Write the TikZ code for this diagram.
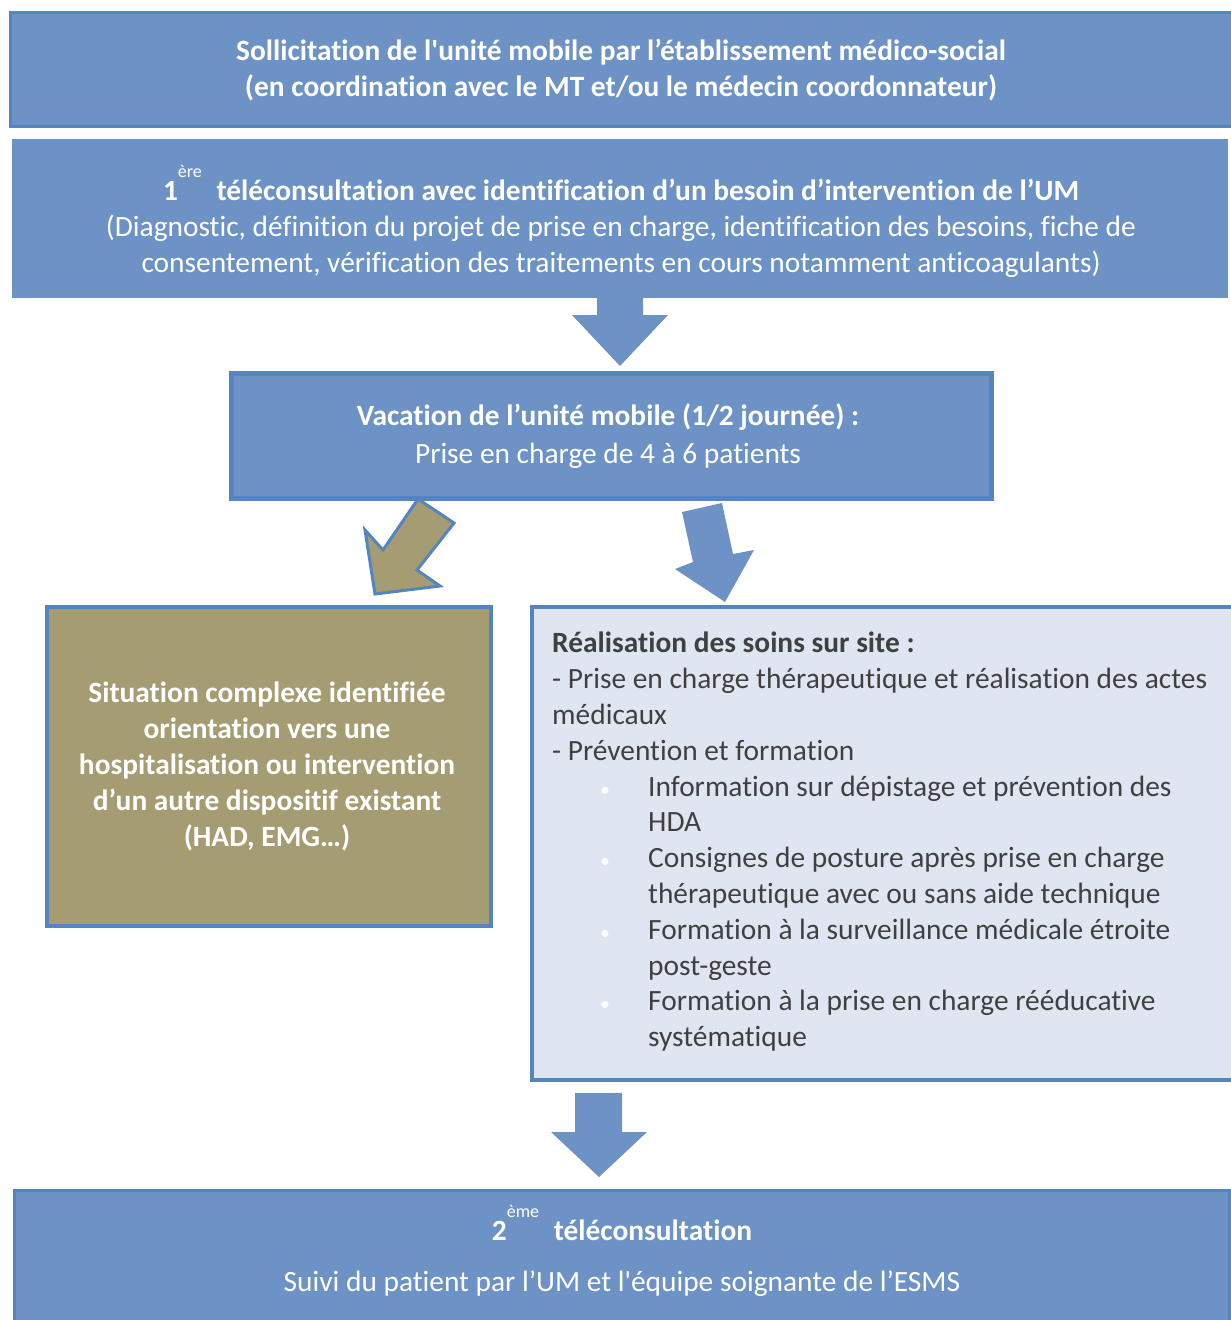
\documentclass[tikz,border=0pt]{standalone}
\usepackage{fontspec}
\setmainfont{Carlito}[Ligatures=NoCommon]
\definecolor{boxblue}{HTML}{6D92C6}
\definecolor{edgeblue}{HTML}{5585C0}
\definecolor{olive}{HTML}{A59D71}
\definecolor{paleblue}{HTML}{DFE6F2}
\definecolor{darktext}{HTML}{404040}
\tikzset{
  bluebox/.style={fill=boxblue, draw=edgeblue, line width=3pt, inner sep=0pt, anchor=north west},
  plainbox/.style={fill=boxblue, draw=boxblue, line width=1pt, inner sep=0pt, anchor=north west},
  whitetext/.style={text=white, align=center, inner sep=0pt, font=\fontsize{29.4}{36}\selectfont},
  greytext/.style={text=darktext, align=left, inner sep=0pt, font=\fontsize{29.4}{35.8}\selectfont},
  blockarrow/.style={fill=boxblue, draw=none},
}
\newcommand{\supx}[1]{\raisebox{23pt}{\fontsize{18}{18}\selectfont\mdseries #1}}
\newcommand{\bul}{\hspace*{48pt}\makebox[48pt][l]{\textcolor{white!95!paleblue}{\fontsize{20}{20}\selectfont\textbullet}}}
\begin{document}
\begin{tikzpicture}[x=1pt,y=-1pt]
\useasboundingbox (0,0) rectangle (1231,1320);
% boxes
\node[bluebox, minimum width=1222pt, minimum height=114pt] (b1) at (8.5,10.5) {};
\node[plainbox, minimum width=1215pt, minimum height=158pt] (b2) at (11.5,138.5) {};
\node[bluebox, line width=5pt, minimum width=760pt, minimum height=125pt] (b3) at (228.5,370.5) {};
\node[fill=olive, draw=edgeblue, line width=4pt, inner sep=0pt, anchor=north west, minimum width=444pt, minimum height=319pt] (b4) at (45,605) {};
\node[fill=paleblue, draw=edgeblue, line width=4pt, inner sep=0pt, anchor=north west, minimum width=705pt, minimum height=473pt] (b5) at (530,605) {};
\node[bluebox, minimum width=1215pt, minimum height=140pt] (b6) at (12.5,1188.5) {};
% arrows
\draw[blockarrow] (597,294) -- (643,294) -- (643,315) -- (668,315) -- (620,366) -- (572,315) -- (597,315) -- cycle;
\fill[olive, draw=edgeblue, line width=3pt, line join=miter] (418,499) -- (454,523) -- (417,570) -- (440,586) -- (375,594) -- (365,530) -- (383,550) -- cycle;
\draw[blockarrow] (682,512) -- (722,503) -- (733,554) -- (754,550) -- (725,602) -- (675,569) -- (693,562) -- cycle;
\draw[blockarrow] (575,1093) -- (622,1093) -- (622,1132) -- (647,1132) -- (599,1177) -- (551,1132) -- (575,1132) -- cycle;
% texts
\node[whitetext] (t1) at (621,70) {\textbf{Sollicitation de l\textquotesingle unité mobile par l’établissement médico-social}\\\textbf{(en coordination avec le MT et/ou le médecin coordonnateur)}};
\node[whitetext] (t2) at (621,221) {\textbf{1\supx{ère}\hspace{8pt} téléconsultation avec identification d’un besoin d’intervention de l’UM}\\(Diagnostic, définition du projet de prise en charge, identification des besoins, fiche de\\consentement, vérification des traitements en cours notamment anticoagulants)};
\node[whitetext, align=center, font=\fontsize{29.4}{38}\selectfont] (t3) at (608,436) {\textbf{Vacation de l’unité mobile (1/2 journée) :}\\Prise en charge de 4 à 6 patients};
\node[whitetext] (t4) at (267,766) {\textbf{Situation complexe identifiée}\\\textbf{orientation vers une}\\\textbf{hospitalisation ou intervention}\\\textbf{d’un autre dispositif existant}\\\textbf{(HAD, EMG…)}};
\node[greytext, anchor=north west] (t5) at (552,632) {\textbf{Réalisation des soins sur site :}\\
- Prise en charge thérapeutique et réalisation des actes\\
médicaux\\
- Prévention et formation\\
\bul Information sur dépistage et prévention des\\
\hspace*{96pt}HDA\\
\bul Consignes de posture après prise en charge\\
\hspace*{96pt}thérapeutique avec ou sans aide technique\\
\bul Formation à la surveillance médicale étroite\\
\hspace*{96pt}post-geste\\
\bul Formation à la prise en charge rééducative\\
\hspace*{96pt}systématique};
\node[whitetext, anchor=base] (t6) at (622,1240) {\textbf{2\supx{ème}\hspace{8pt} téléconsultation}};
\node[whitetext, anchor=base] (t7) at (622,1291) {Suivi du patient par l’UM et l\textquotesingle équipe soignante de l’ESMS};
\end{tikzpicture}
\end{document}
